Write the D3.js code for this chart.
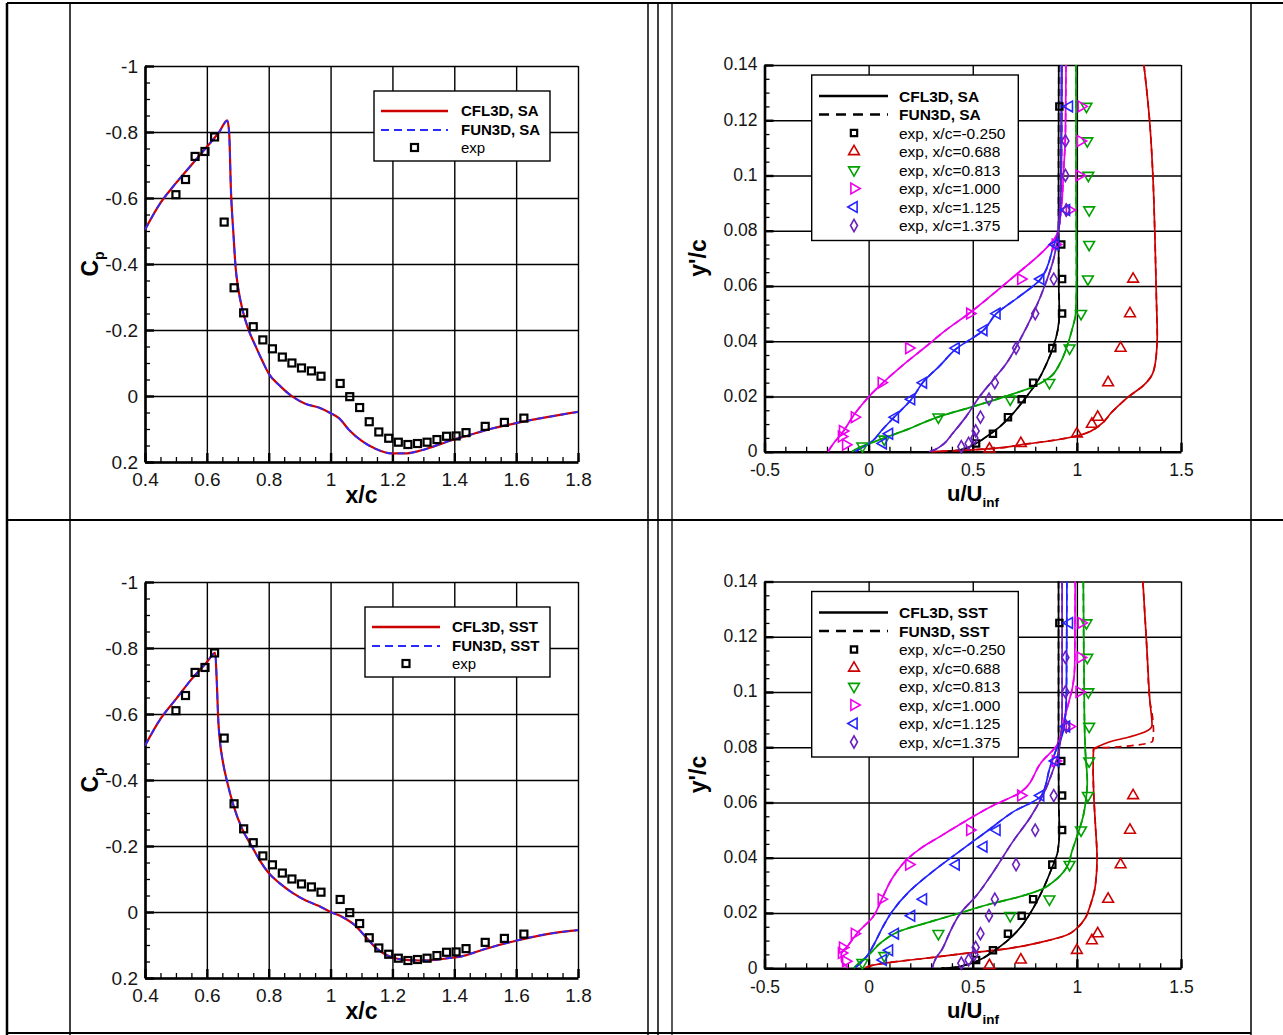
<!DOCTYPE html>
<html><head><meta charset="utf-8">
<script src="https://cdn.jsdelivr.net/npm/d3@7/dist/d3.min.js"></script>
<style>html,body{margin:0;padding:0;background:#fff;}svg{display:block;}</style>
</head><body>
<svg id="chart" width="1283" height="1035"></svg>
<script>
// ---------------- tick labels ----------------
const cpXTicks = [0.4, 0.6, 0.8, 1, 1.2, 1.4, 1.6, 1.8];
const cpYTicks = [-1, -0.8, -0.6, -0.4, -0.2, 0, 0.2];
const uTicks = [-0.5, 0, 0.5, 1, 1.5];
const yTicks = [0, 0.02, 0.04, 0.06, 0.08, 0.1, 0.12, 0.14];

// ---------------- Cp : experiment ----------------
const expXc = [0.5,0.531,0.562,0.594,0.625,0.656,0.688,0.719,0.75,0.781,0.812,0.844,0.875,0.906,0.938,0.969,1.031,1.062,1.094,1.125,1.156,1.188,1.219,1.25,1.281,1.312,1.344,1.375,1.406,1.438,1.5,1.562,1.625];
const expCp = [-0.61,-0.656,-0.726,-0.741,-0.785,-0.527,-0.328,-0.252,-0.21,-0.17,-0.143,-0.118,-0.1,-0.085,-0.076,-0.06,-0.038,0.002,0.035,0.078,0.109,0.128,0.14,0.147,0.144,0.14,0.132,0.122,0.121,0.111,0.092,0.08,0.067];

// ---------------- Cp : CFD, SA ([x/c, Cp]) ----------------
const cpCFL3D_SA = [[0.4,-0.504],[0.45,-0.585],[0.5,-0.645],[0.55,-0.7],[0.6,-0.755],[0.64,-0.8],[0.666,-0.835],[0.672,-0.8],[0.678,-0.62],[0.686,-0.49],[0.693,-0.39],[0.7,-0.335],[0.716,-0.258],[0.732,-0.208],[0.759,-0.148],[0.78,-0.105],[0.8,-0.068],[0.834,-0.033],[0.877,0.002],[0.92,0.024],[0.962,0.035],[1.0,0.052],[1.027,0.067],[1.059,0.102],[1.102,0.137],[1.145,0.16],[1.198,0.174],[1.241,0.174],[1.284,0.167],[1.327,0.155],[1.381,0.137],[1.45,0.118],[1.5,0.104],[1.6,0.082],[1.7,0.064],[1.8,0.048]];
const cpFUN3D_SA = [[0.4,-0.504],[0.45,-0.585],[0.5,-0.645],[0.55,-0.7],[0.6,-0.755],[0.64,-0.8],[0.666,-0.834],[0.672,-0.8],[0.678,-0.62],[0.686,-0.49],[0.693,-0.39],[0.7,-0.335],[0.716,-0.258],[0.732,-0.208],[0.759,-0.148],[0.78,-0.105],[0.8,-0.068],[0.834,-0.033],[0.877,0.002],[0.92,0.024],[0.962,0.035],[1.0,0.052],[1.027,0.067],[1.059,0.102],[1.102,0.137],[1.145,0.16],[1.198,0.174],[1.241,0.174],[1.284,0.167],[1.327,0.155],[1.381,0.137],[1.45,0.118],[1.5,0.104],[1.6,0.082],[1.7,0.064],[1.8,0.048]];

// ---------------- Cp : CFD, SST ----------------
const cpCFL3D_SST = [[0.4,-0.504],[0.45,-0.585],[0.5,-0.645],[0.55,-0.705],[0.6,-0.757],[0.627,-0.785],[0.632,-0.7],[0.637,-0.58],[0.642,-0.52],[0.652,-0.454],[0.666,-0.393],[0.686,-0.323],[0.716,-0.248],[0.743,-0.203],[0.77,-0.158],[0.8,-0.118],[0.834,-0.088],[0.877,-0.058],[0.92,-0.035],[0.963,-0.018],[1.0,0.0],[1.038,0.015],[1.081,0.042],[1.113,0.075],[1.145,0.107],[1.177,0.129],[1.209,0.14],[1.252,0.146],[1.295,0.147],[1.338,0.145],[1.38,0.14],[1.42,0.135],[1.5,0.112],[1.6,0.087],[1.7,0.067],[1.8,0.055]];
const cpFUN3D_SST = [[0.4,-0.504],[0.45,-0.585],[0.5,-0.645],[0.55,-0.705],[0.6,-0.757],[0.627,-0.784],[0.632,-0.7],[0.637,-0.58],[0.642,-0.52],[0.652,-0.454],[0.666,-0.393],[0.686,-0.323],[0.716,-0.248],[0.743,-0.203],[0.77,-0.158],[0.8,-0.118],[0.834,-0.088],[0.877,-0.058],[0.92,-0.035],[0.963,-0.018],[1.0,0.0],[1.038,0.015],[1.081,0.042],[1.113,0.075],[1.145,0.107],[1.177,0.129],[1.209,0.14],[1.252,0.146],[1.295,0.147],[1.338,0.145],[1.38,0.14],[1.42,0.135],[1.5,0.112],[1.6,0.087],[1.7,0.067],[1.8,0.055]];

// ---------------- velocity profiles : experiment (u/Uinf, y'/c) ----------------
const expU_m0250 = [0.916,0.925,0.929,0.929,0.882,0.79,0.735,0.669,0.597,0.516];
const expY_m0250 = [0.125,0.075,0.0625,0.05,0.0375,0.025,0.019,0.0125,0.0065,0.003];
const expU_0688 = [1.27,1.255,1.21,1.15,1.1,1.072,1.0,0.731,0.58];
const expY_0688 = [0.0625,0.05,0.0375,0.025,0.0125,0.01,0.0065,0.003,0.001];
const expU_0813 = [1.046,1.05,1.055,1.059,1.059,1.053,1.02,0.965,0.868,0.68,0.335,0.075,-0.03];
const expY_0813 = [0.125,0.1125,0.1,0.0875,0.075,0.0625,0.05,0.0375,0.025,0.019,0.0125,0.0045,0.002];
const expU_1000 = [1.021,1.017,1.011,0.964,0.897,0.731,0.486,0.193,0.061,-0.068,-0.125,-0.13,-0.11];
const expY_1000 = [0.125,0.1125,0.1,0.0875,0.075,0.0625,0.05,0.0375,0.025,0.0125,0.0075,0.0055,0.0025];
const expU_1125 = [0.964,0.95,0.897,0.826,0.616,0.553,0.42,0.263,0.206,0.128,0.1,0.07];
const expY_1125 = [0.125,0.0875,0.075,0.0625,0.05,0.044,0.0375,0.025,0.019,0.0125,0.0065,0.003];
const expU_1375 = [0.945,0.945,0.949,0.889,0.8,0.708,0.606,0.578,0.537,0.514,0.508,0.48,0.445];
const expY_1375 = [0.1125,0.1,0.0875,0.0625,0.05,0.0375,0.025,0.019,0.0125,0.0075,0.005,0.003,0.0018];

// ---------------- velocity profiles : SA ([u/Uinf, y'/c]) ----------------
const saU_m0250 = [[0.913,0.14],[0.912,0.09],[0.913,0.06],[0.916,0.05],[0.908,0.044],[0.887,0.038],[0.855,0.032],[0.815,0.026],[0.758,0.0199],[0.694,0.0139],[0.629,0.009],[0.565,0.0054],[0.5,0.0024],[0.435,0.0006],[0.37,0]];
const saU_0688 = [[1.322,0.14],[1.349,0.12],[1.365,0.1],[1.374,0.08],[1.382,0.055],[1.386,0.042],[1.38,0.034],[1.362,0.028],[1.32,0.024],[1.25,0.02],[1.17,0.0145],[1.1,0.009],[1.04,0.0066],[0.92,0.0045],[0.76,0.0028],[0.6,0.0012],[0.43,0.0004],[0.3,0]];
const saU_0813 = [[0.996,0.14],[0.996,0.1],[0.998,0.061],[0.994,0.05],[0.976,0.044],[0.952,0.038],[0.919,0.032],[0.871,0.027],[0.79,0.0235],[0.677,0.0205],[0.5,0.0163],[0.339,0.0127],[0.177,0.0078],[0.048,0.0042],[-0.016,0.0024],[-0.065,0.0008],[-0.08,0]];
const saU_1000 = [[0.948,0.14],[0.945,0.115],[0.935,0.1],[0.926,0.0887],[0.906,0.079],[0.83,0.072],[0.716,0.0646],[0.62,0.0585],[0.49,0.0505],[0.371,0.044],[0.274,0.038],[0.145,0.0301],[0.016,0.0211],[-0.065,0.0139],[-0.129,0.0066],[-0.169,0.003],[-0.19,0.0006],[-0.195,0]];
const saU_1125 = [[0.926,0.14],[0.922,0.091],[0.912,0.08],[0.887,0.0742],[0.826,0.0625],[0.72,0.056],[0.613,0.05],[0.552,0.044],[0.42,0.0372],[0.34,0.031],[0.263,0.0253],[0.205,0.0189],[0.125,0.0127],[0.06,0.0075],[0.02,0.004],[-0.03,0.0015],[-0.06,0.0003],[-0.065,0]];
const saU_1375 = [[0.929,0.14],[0.926,0.103],[0.916,0.0863],[0.906,0.0766],[0.887,0.0694],[0.855,0.062],[0.79,0.05],[0.726,0.0404],[0.661,0.0319],[0.597,0.0259],[0.532,0.0199],[0.468,0.0127],[0.403,0.0066],[0.36,0.0028],[0.32,0.0008],[0.29,0]];

// ---------------- velocity profiles : SST ----------------
const sstU_m0250 = [[0.912,0.14],[0.912,0.09],[0.913,0.06],[0.916,0.0494],[0.908,0.0422],[0.879,0.0361],[0.839,0.0289],[0.79,0.0217],[0.726,0.0145],[0.661,0.0096],[0.597,0.006],[0.532,0.003],[0.468,0.0012],[0.403,0.0002],[0.35,0]];
const sstU_0688 = [[1.317,0.14],[1.336,0.1158],[1.351,0.0964],[1.361,0.088],[1.326,0.0855],[1.25,0.0837],[1.155,0.0819],[1.097,0.0801],[1.08,0.0795],[1.078,0.0722],[1.082,0.0613],[1.089,0.0518],[1.097,0.0398],[1.089,0.0301],[1.065,0.0229],[1.04,0.0181],[1.0,0.0145],[0.952,0.012],[0.839,0.0096],[0.677,0.0072],[0.435,0.0051],[0.274,0.0036],[0.113,0.0022],[0.016,0.001],[-0.016,0.0002]];
const sstU_0688_fun = [[1.317,0.14],[1.336,0.1158],[1.351,0.0964],[1.362,0.0917],[1.368,0.0855],[1.364,0.0822],[1.288,0.0808],[1.174,0.08],[1.097,0.0797],[1.08,0.0793],[1.078,0.0722],[1.082,0.0613],[1.089,0.0518],[1.097,0.0398],[1.089,0.0301],[1.065,0.0229],[1.04,0.0181],[1.0,0.0145],[0.952,0.012],[0.839,0.0096],[0.677,0.0072],[0.435,0.0051],[0.274,0.0036],[0.113,0.0022],[0.016,0.001],[-0.016,0.0002]];
const sstU_0813 = [[1.031,0.14],[1.036,0.092],[1.04,0.0795],[1.05,0.0674],[1.044,0.0613],[1.031,0.0553],[1.002,0.048],[0.975,0.042],[0.955,0.037],[0.92,0.0335],[0.887,0.0313],[0.823,0.0283],[0.726,0.0259],[0.597,0.0235],[0.435,0.0199],[0.274,0.0163],[0.145,0.0133],[0.065,0.0096],[0.0,0.0048],[-0.048,0.0018],[-0.065,0.0006],[-0.07,0]];
const sstU_1000 = [[0.992,0.14],[0.99,0.11],[0.98,0.102],[0.96,0.096],[0.935,0.089],[0.906,0.081],[0.83,0.0746],[0.73,0.0637],[0.6,0.059],[0.47,0.0535],[0.35,0.048],[0.25,0.0434],[0.19,0.0398],[0.113,0.0325],[0.065,0.0253],[0.016,0.0181],[-0.048,0.0133],[-0.097,0.0084],[-0.132,0.0048],[-0.129,0.0024],[-0.105,0.0006],[-0.1,0]];
const sstU_1125 = [[0.952,0.14],[0.95,0.1],[0.943,0.09],[0.93,0.0845],[0.9,0.079],[0.87,0.0725],[0.83,0.0625],[0.694,0.0566],[0.565,0.0494],[0.435,0.0422],[0.306,0.0349],[0.194,0.0277],[0.113,0.0205],[0.065,0.0145],[0.024,0.0084],[-0.016,0.0036],[-0.048,0.0012],[-0.065,0.0002]];
const sstU_1375 = [[0.929,0.14],[0.929,0.092],[0.916,0.0795],[0.887,0.072],[0.839,0.063],[0.78,0.055],[0.694,0.046],[0.6,0.035],[0.52,0.0265],[0.435,0.0193],[0.39,0.013],[0.35,0.0065],[0.323,0.0036],[0.306,0.0002]];

// ---------------- legend text ----------------
const stationLabels = ['exp, x/c=-0.250','exp, x/c=0.688','exp, x/c=0.813','exp, x/c=1.000','exp, x/c=1.125','exp, x/c=1.375'];

// =====================================================================
const svg = d3.select('#chart');
const FONT = "'Liberation Sans', Arial, Helvetica, sans-serif";
const RED = '#cc0000', BLUE = '#2a2aff';
const stColors = ['#000000', '#cc0000', '#00a000', '#ee00ee', '#2424ff', '#6a1fbf'];
const stSymbols = [[d3.symbolSquare,0],[d3.symbolTriangle,0],[d3.symbolTriangle,180],[d3.symbolTriangle,90],[d3.symbolTriangle,-90],[d3.symbolDiamond,0]];
const expStations = [[expU_m0250,expY_m0250],[expU_0688,expY_0688],[expU_0813,expY_0813],[expU_1000,expY_1000],[expU_1125,expY_1125],[expU_1375,expY_1375]];
const fmt = d => d3.format('~g')(d).replace('\u2212','-');

// table frame
const frame = svg.append('g').attr('stroke','#000').attr('fill','none');
[[7,3,1283,3,2],[7,520,1283,520,2],[7,1033,1251,1033,2],[7,3,7,1035,2.5],[70,3,70,1035,1.5],[648,3,648,1035,1.5],[658,3,658,1035,1.5],[672,3,672,1035,1.3],[1251,3,1251,1035,1.5]]
  .forEach(l => frame.append('line').attr('x1',l[0]).attr('y1',l[1]).attr('x2',l[2]).attr('y2',l[3]).attr('stroke-width',l[4]));

let clipN = 0;
function axesFrame(x, y, majX, majY, minX, minY, padX, padY, fs, ydy) {
  const [xa, xb] = x.range();
  const ya = Math.min(...y.range()), yb = Math.max(...y.range());
  const g = svg.append('g');
  const grid = (sel, w) => { sel.select('.domain').remove(); sel.selectAll('.tick line').attr('stroke','#000').attr('stroke-width',w); };
  g.append('g').attr('transform',`translate(0,${yb})`)
    .call(d3.axisBottom(x).tickValues(majX).tickSize(-(yb-ya)).tickFormat('')).call(s=>grid(s,1.4));
  g.append('g').attr('transform',`translate(${xa},0)`)
    .call(d3.axisLeft(y).tickValues(majY).tickSize(-(xb-xa)).tickFormat('')).call(s=>grid(s,1.4));
  g.append('g').attr('transform',`translate(0,${yb})`)
    .call(d3.axisBottom(x).tickValues(minX).tickSize(-5).tickFormat('')).call(s=>grid(s,1.3));
  g.append('g').attr('transform',`translate(${xa},0)`)
    .call(d3.axisLeft(y).tickValues(minY).tickSize(-5).tickFormat('')).call(s=>grid(s,1.3));
  const styleLab = sel => {
    sel.attr('font-family',null).attr('font-size',null);
    sel.select('.domain').attr('stroke','#000').attr('stroke-width',2.6);
    sel.selectAll('.tick line').attr('stroke','#000').attr('stroke-width',2.4);
    sel.selectAll('text').attr('font-family',FONT).attr('font-size',fs).attr('fill','#151515');
  };
  g.append('g').attr('transform',`translate(0,${yb})`)
    .call(d3.axisBottom(x).tickValues(majX).tickSize(-9).tickSizeOuter(0).tickPadding(padX).tickFormat(fmt)).call(styleLab);
  g.append('g').attr('transform',`translate(${xa},0)`)
    .call(d3.axisLeft(y).tickValues(majY).tickSize(-9).tickSizeOuter(0).tickPadding(padY).tickFormat(fmt)).call(styleLab)
    .call(s => s.selectAll('text').attr('dy', ydy));
  const id = 'clip' + (clipN++);
  svg.append('clipPath').attr('id',id).append('rect').attr('x',xa).attr('y',ya-1).attr('width',xb-xa).attr('height',yb-ya+2);
  return svg.append('g').attr('clip-path',`url(#${id})`);
}

function rotLabel(xp, yp, main, sub) {
  const t = svg.append('text').attr('transform',`translate(${xp},${yp}) rotate(-90)`)
    .attr('text-anchor','middle').attr('font-family',FONT).attr('font-weight','bold').attr('font-size',23).attr('fill','#000');
  t.append('tspan').text(main);
  if (sub) t.append('tspan').attr('font-size',14).attr('dy',6).text(sub);
}

// ---------------- Cp panels ----------------
function drawCp(top, cfl, fun, model) {
  const x = d3.scaleLinear().domain([0.4,1.8]).range([145,578]);
  const y = d3.scaleLinear().domain([-1,0.2]).range([top, top+396]);
  const minX = d3.range(0,29).map(i => +(0.4+i*0.05).toFixed(2));
  const minY = d3.range(0,25).map(i => +(-1+i*0.05).toFixed(2));
  const plot = axesFrame(x, y, cpXTicks, cpYTicks, minX, minY, 11, 7, 19, '0.32em');
  const line = d3.line().x(d=>x(d[0])).y(d=>y(d[1])).curve(d3.curveMonotoneX);
  plot.append('path').datum(cfl).attr('d',line).attr('fill','none').attr('stroke',RED).attr('stroke-width',2.2);
  plot.append('path').datum(fun).attr('d',line).attr('fill','none').attr('stroke',BLUE).attr('stroke-width',1.8).attr('stroke-dasharray','7,5');
  svg.append('g').selectAll('rect').data(expXc.map((v,i)=>[v,expCp[i]])).join('rect')
    .attr('x',d=>x(d[0])-3.5).attr('y',d=>y(d[1])-3.5).attr('width',7).attr('height',7)
    .attr('fill','none').attr('stroke','#000').attr('stroke-width',2.2);
  // legend
  const lg = svg.append('g');
  const bx = model==='SA' ? 374 : 365, tx = model==='SA' ? 461 : 452, l0 = model==='SA' ? 381 : 372, l1 = model==='SA' ? 448 : 440;
  lg.append('rect').attr('x',bx).attr('y',top+25).attr('width',550-bx).attr('height',70).attr('fill','#fff').attr('stroke','#000').attr('stroke-width',1.4);
  lg.append('line').attr('x1',l0).attr('x2',l1).attr('y1',top+45).attr('y2',top+45).attr('stroke',RED).attr('stroke-width',2.4);
  lg.append('line').attr('x1',l0).attr('x2',l1).attr('y1',top+64).attr('y2',top+64).attr('stroke',BLUE).attr('stroke-width',2.2).attr('stroke-dasharray','8,5');
  lg.append('rect').attr('x',(l0+l1)/2-3.5).attr('y',top+78).attr('width',7).attr('height',7).attr('fill','none').attr('stroke','#000').attr('stroke-width',2.2);
  const txt = (yy, s, w) => lg.append('text').attr('x',tx).attr('y',yy).attr('font-family',FONT).attr('font-size',15).attr('font-weight',w).attr('fill','#000').text(s);
  txt(top+50, 'CFL3D, ' + model, 'bold');
  txt(top+69, 'FUN3D, ' + model, 'bold');
  txt(top+87, 'exp', 'normal');
  svg.append('text').attr('x',361.5).attr('y',top+437).attr('text-anchor','middle').attr('font-family',FONT).attr('font-weight','bold').attr('font-size',23).text('x/c');
  rotLabel(98, top+198, 'C', 'p');
}

// ---------------- velocity panels ----------------
function drawVel(top, cflLines, funLines, model) {
  const x = d3.scaleLinear().domain([-0.5,1.5]).range([764.5,1181]);
  const y = d3.scaleLinear().domain([0,0.14]).range([top+386.7, top]);
  const minX = d3.range(0,21).map(i => +(-0.5+i*0.1).toFixed(2));
  const minY = d3.range(0,29).map(i => +(i*0.005).toFixed(3));
  const plot = axesFrame(x, y, uTicks, yTicks, minX, minY, 12, 7, 17.5, '0.28em');
  const line = d3.line().x(d=>x(d[0])).y(d=>y(d[1])).curve(d3.curveMonotoneY);
  cflLines.forEach((L,i) => plot.append('path').datum(L).attr('d',line).attr('fill','none').attr('stroke',stColors[i]).attr('stroke-width',1.7));
  funLines.forEach((L,i) => plot.append('path').datum(L).attr('d',line).attr('fill','none').attr('stroke',stColors[i]).attr('stroke-width',1.7).attr('stroke-dasharray','7,5'));
  const mk = (sel, i) => sel.attr('d', d3.symbol().type(stSymbols[i][0]).size(stSymbols[i][0]===d3.symbolSquare ? 40 : (stSymbols[i][0]===d3.symbolDiamond ? 42 : 50)))
      .attr('fill','none').attr('stroke',stColors[i]).attr('stroke-width',i===0?2.2:1.6);
  expStations.forEach((s,i) => {
    svg.append('g').selectAll('path').data(s[0].map((u,k)=>[u,s[1][k]])).join('path')
      .attr('transform',d=>`translate(${x(d[0])},${y(d[1])}) rotate(${stSymbols[i][1]})`).call(sel=>mk(sel,i));
  });
  // legend
  const lg = svg.append('g');
  lg.append('rect').attr('x',811.7).attr('y',top+10).attr('width',206.6).attr('height',165.5).attr('fill','#fff').attr('stroke','#000').attr('stroke-width',1.4);
  const rowY = i => top + 31 + i*18.5;
  lg.append('line').attr('x1',819).attr('x2',888).attr('y1',rowY(0)).attr('y2',rowY(0)).attr('stroke','#000').attr('stroke-width',2.4);
  lg.append('line').attr('x1',819).attr('x2',888).attr('y1',rowY(1)).attr('y2',rowY(1)).attr('stroke','#000').attr('stroke-width',2.4).attr('stroke-dasharray','10,7');
  const txt = (yy, s, w) => lg.append('text').attr('x',899).attr('y',yy+5.5).attr('font-family',FONT).attr('font-size',15.5).attr('font-weight',w).attr('fill','#000').text(s);
  txt(rowY(0), 'CFL3D, ' + model, 'bold');
  txt(rowY(1), 'FUN3D, ' + model, 'bold');
  stationLabels.forEach((s,i) => {
    lg.append('path').attr('transform',`translate(854,${rowY(i+2)}) rotate(${stSymbols[i][1]})`).call(sel=>mk(sel,i));
    txt(rowY(i+2), s, 'normal');
  });
  // axis titles
  const t = svg.append('text').attr('x',973).attr('y',top+436).attr('text-anchor','middle').attr('font-family',FONT).attr('font-weight','bold').attr('font-size',22);
  t.append('tspan').text('u/U');
  t.append('tspan').attr('font-size',13.5).attr('dy',6).text('inf');
  rotLabel(706, top+193, "y'/c", null);
}

drawCp(66, cpCFL3D_SA, cpFUN3D_SA, 'SA');
drawCp(582, cpCFL3D_SST, cpFUN3D_SST, 'SST');
drawVel(65, [saU_m0250, saU_0688, saU_0813, saU_1000, saU_1125, saU_1375],
            [saU_m0250, saU_0688, saU_0813, saU_1000, saU_1125, saU_1375], 'SA');
drawVel(581.5, [sstU_m0250, sstU_0688, sstU_0813, sstU_1000, sstU_1125, sstU_1375],
            [sstU_m0250, sstU_0688_fun, sstU_0813, sstU_1000, sstU_1125, sstU_1375], 'SST');
</script>
</body></html>
